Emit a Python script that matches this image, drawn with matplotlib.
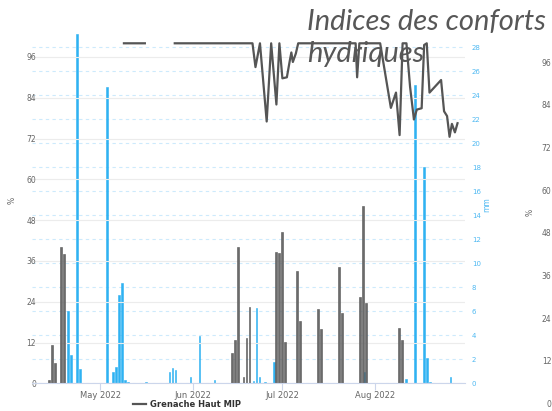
import numpy as np
import pandas as pd
import matplotlib
matplotlib.use("Agg")
import matplotlib.pyplot as plt

# gray columns (%), left axis
gris_dates = ["2022-04-14", "2022-04-15", "2022-04-16", "2022-04-18", "2022-04-19",
              "2022-06-14", "2022-06-15", "2022-06-16", "2022-06-18", "2022-06-19",
              "2022-06-20", "2022-06-29", "2022-06-30", "2022-07-01", "2022-07-02",
              "2022-07-06", "2022-07-07", "2022-07-13", "2022-07-14", "2022-07-20",
              "2022-07-21", "2022-07-27", "2022-07-28", "2022-07-29", "2022-08-09",
              "2022-08-10"]
gris_vals = [1.0, 11.3, 5.9, 40.2, 38.0,
             9.0, 12.7, 40.2, 1.8, 13.2,
             22.3, 38.7, 38.4, 44.6, 12.2,
             33.1, 18.4, 22.0, 15.9, 34.3,
             20.6, 25.5, 52.1, 23.7, 16.2,
             12.7]

# pluie (mm), right axis
pluie_dates = ["2022-04-20", "2022-04-21", "2022-04-23", "2022-04-24", "2022-05-03",
               "2022-05-05", "2022-05-06", "2022-05-07", "2022-05-08", "2022-05-09",
               "2022-05-10", "2022-05-16", "2022-05-24", "2022-05-25", "2022-05-26",
               "2022-05-31", "2022-06-03", "2022-06-08", "2022-06-21", "2022-06-22",
               "2022-06-23", "2022-06-25", "2022-06-28", "2022-07-28", "2022-08-11",
               "2022-08-14", "2022-08-17", "2022-08-18", "2022-08-19", "2022-08-26"]
pluie_vals = [6.0, 2.36, 29.1, 1.17, 24.7,
              0.97, 1.33, 7.36, 8.33, 0.3,
              0.15, 0.15, 0.97, 1.25, 1.1,
              0.5, 3.94, 0.3, 0.2, 6.25,
              0.5, 0.1, 1.8, 0.97, 0.4,
              24.86, 18.05, 2.08, 0.1, 0.5]

# Grenache Haut MIP (%)
ligne_dates = ["2022-05-09", "2022-05-16", "2022-05-20", "2022-05-26", "2022-06-21",
               "2022-06-22", "2022-06-23 12:00", "2022-06-25 18:00", "2022-06-27 06:00",
               "2022-06-29", "2022-06-30", "2022-07-01", "2022-07-02 12:00",
               "2022-07-03 12:00", "2022-07-04", "2022-07-04 12:00", "2022-07-05 12:00",
               "2022-07-06 07:00", "2022-07-25 12:00", "2022-07-26", "2022-07-26 18:00",
               "2022-08-02 17:00", "2022-08-06 07:00", "2022-08-08", "2022-08-09 05:00",
               "2022-08-10 05:00", "2022-08-11 12:00", "2022-08-12 17:00", "2022-08-14",
               "2022-08-14 23:00", "2022-08-16 14:00", "2022-08-17 10:00",
               "2022-08-18 07:00", "2022-08-19 05:00", "2022-08-23 02:00",
               "2022-08-24 02:00", "2022-08-25 02:00", "2022-08-25 22:00",
               "2022-08-26 17:00", "2022-08-27 17:00", "2022-08-28 14:00"]
ligne_vals = [100, 100, np.nan, 100, 100,
              93, 100, 77, 100,
              82, 100, 89.7, 90,
              95, 97.3, 94.5, 97,
              100, 100, 90, 100,
              100, 81, 85.5, 73,
              100, 100, 87.2, 77.6,
              80.5, 80.9, 99.5,
              100, 85.5, 89.2,
              80, 78.6, 72.5,
              76.3, 73.8, 76.5]

mois = ["2022-05-01", "2022-06-01", "2022-07-01", "2022-08-01"]
mois_labels = ["May 2022", "Jun 2022", "Jul 2022", "Aug 2022"]

gris = '#6b6b6b'
bleu = '#2fb2f2'
W, H = 552, 411

fig = plt.figure(figsize=(W / 100, H / 100), dpi=100)
pos = [32 / W, (H - 383.3) / H, (465 - 32) / W, (383.3 - 30) / H]
ax2 = fig.add_axes(pos)
ax = fig.add_axes(pos)
ax.set_zorder(ax2.get_zorder() + 1)
ax.patch.set_visible(False)

gd = pd.to_datetime(gris_dates)
pdt = pd.to_datetime(pluie_dates) + pd.Timedelta(hours=7)
ld = pd.to_datetime(ligne_dates, format='mixed')

ax2.bar(pdt, pluie_vals, width=0.55, color=bleu, edgecolor=bleu, linewidth=0.4)
ax.bar(gd, gris_vals, width=0.65, color=gris, edgecolor='#555555', linewidth=0.4)
l, = ax.plot(ld, ligne_vals, color='#555555', lw=1.6, label='Grenache Haut MIP')

xmin = pd.Timestamp("2022-04-08 06:00")
xmax = pd.Timestamp("2022-08-31 02:00")
ax.set_xlim(xmin, xmax)
ax2.set_xlim(xmin, xmax)

ax.set_ylim(0, (383.3 - 30) / 3.4)
ax.set_yticks(np.arange(0, 97, 12))
ax2.set_ylim(0, (383.3 - 30) / 12)
ax2.set_yticks(np.arange(0, 29, 2))

ax.yaxis.grid(True, color='#ececec', lw=0.8)
ax.set_axisbelow(True)
ax2.yaxis.grid(True, color='#cdeafc', lw=0.8, ls=(0, (3, 3)))
ax2.set_axisbelow(True)

for a in (ax, ax2):
    for s in a.spines.values():
        s.set_visible(False)
ax.spines['bottom'].set_visible(True)
ax.spines['bottom'].set_color('#ccd6eb')
ax.spines['bottom'].set_linewidth(0.8)

ax.tick_params(axis='y', length=0, labelsize=5.5, labelcolor='#666666', pad=-3)
ax2.yaxis.tick_right()
ax2.tick_params(axis='y', length=0, labelsize=5, labelcolor='#4fb9f2', pad=5)
ax2.tick_params(axis='x', bottom=False, labelbottom=False)

ax.set_xticks(pd.to_datetime(mois))
ax.set_xticklabels(mois_labels)
ax.tick_params(axis='x', length=5, color='#ccd6eb', labelsize=6,
               labelcolor='#666666', pad=0.5)

fig.text(12 / W, 1 - 200 / H, '%', rotation=90, fontsize=5.5, color='#666666',
         ha='center', va='center')
fig.text(487 / W, 1 - 205 / H, 'mm', rotation=90, fontsize=5.5, color='#4fb9f2',
         ha='center', va='center')

fig.legend(handles=[l], loc='center', bbox_to_anchor=(187 / W, 6.5 / H), frameon=False,
           prop={'weight': 'bold', 'size': 6}, labelcolor='#333333',
           handlelength=1.6, handletextpad=0.5, borderpad=0)

# second chart, only its left edge shows
ax3 = fig.add_axes([554 / W, (H - 403.3) / H, 0.5, (403.3 - 30) / H])
ax3.set_ylim(0, (403.3 - 30) / 3.552)
ax3.set_yticks(np.arange(0, 97, 12))
ax3.tick_params(axis='y', length=0, labelsize=5.5, labelcolor='#666666', pad=2)
ax3.set_xticks([])
for s in ax3.spines.values():
    s.set_visible(False)
ax3.patch.set_visible(False)
fig.text(530 / W, 1 - 212 / H, '%', rotation=90, fontsize=5.5, color='#666666',
         ha='center', va='center')

titre = dict(family='Lato', style='italic', fontsize=21, color='#575757',
             ha='left', va='baseline', zorder=10)
fig.text(307 / W, 1 - 30 / H, 'Indices des conforts', **titre)
fig.text(307 / W, 1 - 62 / H, 'hydriques', **titre)

fig.savefig('out.png', dpi=100)
